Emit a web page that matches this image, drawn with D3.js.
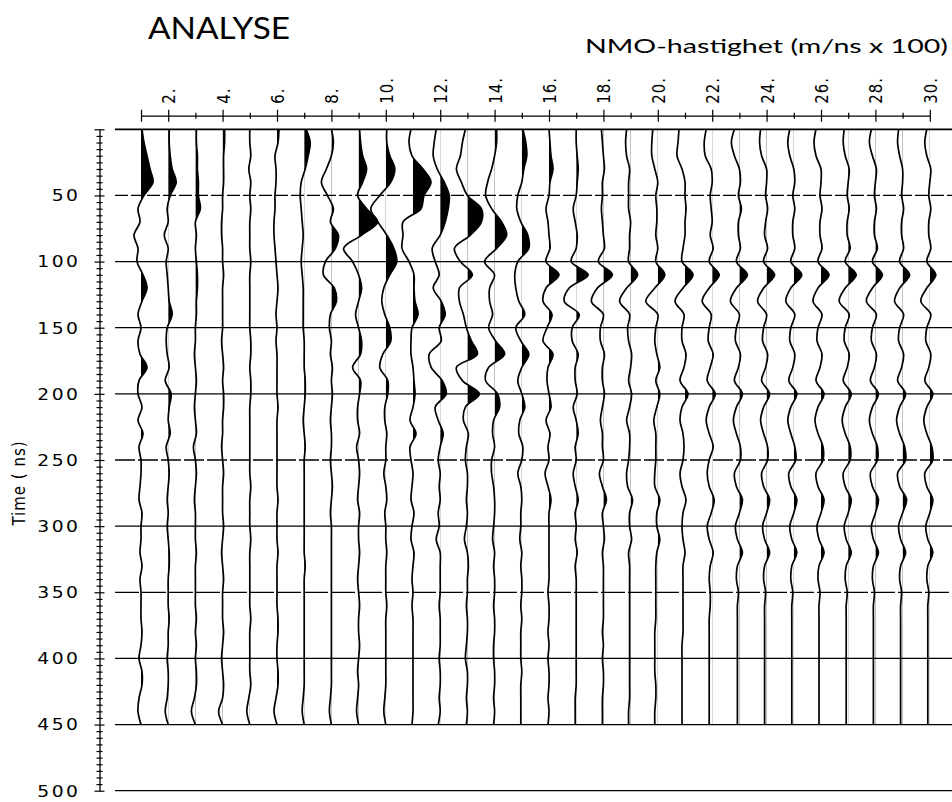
<!DOCTYPE html>
<meta charset="utf-8">
<script src="https://d3js.org/d3.v7.min.js"></script>
<style>
  body { margin: 0; background: #fff; }
</style>
<div id="my_dataviz"></div>
<script>

// ---- data ----
// NMO velocity of each trace (m/ns x 100)
var velocities = [1,2,3,4,5,6,7,8,9,10,11,12,13,14,15,16,17,18,19,20,21,22,23,24,25,26,27,28,29,30];
// labelled velocities on the top axis
var velLabels = [2,4,6,8,10,12,14,16,18,20,22,24,26,28,30];
// sample times (ns) of every trace
var times = [0,10,20,30,40,50,60,70,80,90,100,110,120,130,140,150,160,170,180,190,
             200,210,220,230,240,250,260,270,280,290,300,310,320,330,340,350,360,370,380,390,
             400,410,420,430,440,450];
// horizontal time lines and labelled time ticks
var gridTimes = [0,50,100,150,200,250,300,350,400,450,500];
var timeLabels = [50,100,150,200,250,300,350,400,450,500];

// trace amplitudes (deflection, + = right / filled), one value per sample time
var tr01 = [1,3,6,9,12,3,-3,-1,-7,-3,-4,2,6,1,-3,0,-3,-1,6,-2,-3,1,-3,2,-2,0,0,-1,-2,1,0,0,-1,1,-1,0,0,0,1,0,-2,1,1,-2,-3,0];
var tr02 = [1,1,2,4,8,2,-1,0,-4,0,-2,-1,0,1,4,-1,-2,-1,1,-3,3,1,0,2,-2,0,1,0,-1,0,-1,0,1,1,0,0,0,1,0,0,-1,0,0,-1,-3,0];
var tr03 = [1,1,2,2,3,3,5,0,1,0,1,2,2,1,1,0,0,-1,0,1,0,-1,0,1,-2,0,1,0,-1,0,0,0,1,0,0,0,0,1,0,1,0,1,1,-1,-4,0];
var tr04 = [2,2,1,1,1,0,0,-1,-1,0,0,1,0,0,0,0,-1,0,1,0,1,1,0,0,-1,0,1,0,0,0,1,0,-1,0,1,0,0,0,1,0,-1,0,1,0,-4,0];
var tr05 = [0,0,1,-1,1,0,1,0,0,0,1,0,0,0,0,0,1,1,0,1,1,0,0,0,0,0,0,1,0,0,0,1,0,0,0,0,0,1,0,0,0,0,1,-1,-3,0];
var tr06 = [2,1,-2,-1,-1,-2,-2,-3,-3,-2,-1,0,1,0,-1,0,-1,0,0,0,0,1,0,0,0,0,0,0,1,0,0,0,1,0,0,0,0,1,1,0,0,1,1,-1,-3,0];
var tr07 = [2,6,4,1,-3,-4,-3,-2,-1,-2,-3,-2,-1,-1,-1,-1,0,0,0,1,1,0,-1,0,1,0,0,0,0,0,0,0,0,1,0,0,0,0,0,0,0,0,0,-1,-2,0];
var tr08 = [0,2,0,-5,-10,-4,2,-1,7,4,-6,-8,3,5,-1,-2,0,-1,1,0,1,0,-1,0,0,-1,0,1,0,-1,0,0,0,0,0,0,0,0,0,0,0,0,0,-1,-2,0];
var tr09 = [1,2,4,8,4,-1,8,19,3,-15,-6,0,3,0,-3,0,3,2,-6,2,1,-1,-1,1,-2,0,1,0,-1,1,0,0,1,0,-1,0,1,0,0,1,0,-1,0,-1,-2,0];
var tr10 = [1,1,4,9,5,-6,-15,-8,1,8,11,4,-2,-4,-1,4,5,-3,-6,2,2,-1,-1,1,0,0,-2,0,1,-1,0,0,1,0,0,0,1,0,0,0,0,0,0,-1,-2,0];
var tr11 = [-2,-4,-1,10,18,11,8,-10,-10,-11,-4,1,1,2,5,-1,-2,-2,0,1,2,0,-3,3,-3,-2,0,-1,-2,1,-1,-2,1,0,-1,0,-1,0,0,0,0,0,0,0,0,-1];
var tr12 = [-4,-6,-7,-3,4,9,8,5,0,-8,-5,-1,-7,1,5,-1,1,-11,-9,2,6,-5,-2,3,0,-2,0,-1,0,-2,-1,-4,0,0,0,0,-1,0,0,0,-1,0,0,-1,0,-2];
var tr13 = [-2,-5,-7,-11,-6,0,14,14,3,-13,-7,5,-8,-8,-4,-1,4,10,-11,-5,12,-2,-4,1,-1,-2,0,0,-1,0,-1,-3,0,1,0,0,-1,0,0,-1,-2,0,0,-1,0,-1];
var tr14 = [2,2,0,-3,-7,-9,-3,7,12,2,-10,0,-5,-5,-2,-6,1,10,-6,-9,3,5,-1,-2,0,-3,-3,-1,0,0,-1,-2,0,-1,0,0,-1,0,0,-1,-1,0,0,-1,0,-1];
var tr15 = [1,4,5,2,0,-4,-5,-1,6,7,-4,-7,-6,-3,3,-6,-1,7,0,-4,0,3,-2,-3,1,0,-4,-1,0,-1,-1,-2,0,-1,0,0,-1,0,-1,-1,-1,0,-1,-1,-1,-1];
var tr16 = [0,1,2,4,1,0,-3,-1,0,1,-3,10,-3,-6,3,-2,-6,4,-1,-2,0,2,-3,1,-1,0,-4,-1,2,0,0,0,0,0,0,-1,0,0,-1,0,-1,0,0,-1,0,-1];
var tr17 = [0,0,1,2,1,0,-3,-1,1,0,-5,12,-7,-12,3,-4,-4,2,-1,-1,1,-3,0,2,-1,0,-3,-1,2,-1,0,-1,1,-1,0,0,0,0,0,0,0,0,0,-1,-1,-1];
var tr18 = [-2,-1,0,1,-1,-1,-2,-1,0,1,-5,9,-6,-12,0,-3,-3,1,-1,-1,1,-1,-3,-1,-1,0,-4,-1,3,-1,0,1,-1,0,0,0,0,0,-1,0,-1,0,0,-1,-1,-1];
var tr19 = [-4,-5,-4,-1,-2,-2,-2,0,-1,-1,-2,7,-4,-11,-1,-3,-2,1,0,-2,1,-1,-4,-1,-1,-2,-4,-3,2,-1,-1,1,-2,-1,-1,-1,-1,-1,-1,-1,-1,-1,-1,-1,-2,-2];
var tr20 = [-5,-6,-6,-3,0,-2,-1,-1,-2,0,-2,7,-3,-12,0,-2,-3,-1,2,-2,2,-1,-4,-2,-2,-2,-3,-3,2,-1,-1,2,-1,-2,-2,-2,-2,-2,-3,-3,-3,-3,-2,-2,-3,-3];
var tr21 = [-6,-7,-8,-3,0,0,1,0,0,-2,-3,8,-2,-10,-1,-3,-3,1,-1,-5,3,-3,-5,-2,-1,-2,-5,-3,1,-2,-3,-2,0,-2,-2,-2,-2,-2,-2,-3,-3,-3,-3,-3,-3,-3];
var tr22 = [-6,-8,-7,-1,0,-2,-1,0,-2,1,-3,7,-3,-10,-1,-3,-4,1,-2,-5,3,-3,-6,-3,1,-3,-5,-3,2,-1,-5,-3,1,-2,-3,-2,-2,-3,-3,-3,-3,-3,-3,-3,-3,-3];
var tr23 = [-5,-8,-5,0,1,-1,2,-1,-1,1,-3,8,-3,-9,0,-3,-4,1,-1,-5,3,-3,-6,-3,1,1,-5,-3,3,0,-4,-2,3,-2,-3,-1,-2,-2,-2,-2,-2,-2,-2,-2,-2,-2];
var tr24 = [-6,-7,-5,0,0,-1,1,-1,-2,1,-3,8,-3,-9,0,-3,-4,1,-1,-5,3,-3,-6,-3,1,1,-5,-3,3,0,-4,-2,3,-2,-3,-1,-2,-2,-2,-2,-2,-2,-2,-2,-2,-2];
var tr25 = [-4,-6,-4,0,1,-1,1,-1,-1,1,-3,8,-3,-8,1,-3,-4,1,-1,-5,3,-3,-6,-3,1,2,-5,-3,3,0,-4,-2,3,-2,-3,-1,-2,-2,-2,-2,-2,-2,-2,-2,-2,-2];
var tr26 = [-5,-7,-5,0,0,-1,1,-1,-1,1,-3,8,-3,-8,1,-3,-4,1,-1,-5,3,-3,-6,-3,2,2,-5,-3,3,0,-4,-2,3,-2,-3,-1,-2,-2,-2,-2,-2,-2,-2,-2,-2,-2];
var tr27 = [-4,-5,-3,1,0,-1,1,-1,-1,2,-3,8,-3,-9,1,-3,-4,1,-1,-5,3,-3,-6,-3,2,2,-5,-3,3,0,-4,-2,3,-2,-3,-1,-2,-2,-2,-2,-2,-2,-2,-2,-2,-2];
var tr28 = [-4,-6,-3,1,0,-1,1,-1,-1,2,-3,7,-3,-9,1,-3,-4,1,-1,-5,3,-3,-6,-3,2,2,-5,-3,3,0,-4,-2,3,-2,-3,-1,-2,-2,-2,-2,-2,-2,-2,-2,-2,-2];
var tr29 = [-4,-5,-3,0,0,-1,1,-1,-1,1,-3,7,-3,-8,1,-3,-4,1,-1,-5,3,-3,-6,-3,2,3,-5,-3,4,0,-4,-2,3,-2,-3,-1,-2,-2,-2,-2,-2,-2,-2,-2,-2,-2];
var tr30 = [-3,-5,-3,1,0,-1,1,-1,-1,1,-3,6,-3,-9,1,-3,-4,1,-1,-5,3,-3,-6,-3,2,3,-5,-3,3,0,-4,-2,3,-2,-3,-1,-2,-2,-2,-2,-2,-2,-2,-2,-2,-2];

var traces = [tr01,tr02,tr03,tr04,tr05,tr06,tr07,tr08,tr09,tr10,tr11,tr12,tr13,tr14,tr15,
              tr16,tr17,tr18,tr19,tr20,tr21,tr22,tr23,tr24,tr25,tr26,tr27,tr28,tr29,tr30];

// ---- layout ----
var width = 952, height = 802;
var plotFont = "'DejaVu Sans', sans-serif";

var svg = d3.select("#my_dataviz")
  .append("svg")
    .attr("width", width)
    .attr("height", height);

// scales
var x = d3.scaleLinear().domain([1, 30]).range([141, 929.8]);
var y = d3.scaleLinear().domain([0, 500]).range([129.3, 790.7]);
var amp = d3.scaleLinear().domain([-10, 10]).range([-10, 10]);

// horizontal time lines
var dashes = {50: "13,3", 250: "20,3", 350: "24,3"};
svg.append("g")
  .selectAll("line")
  .data(gridTimes)
  .enter()
  .append("line")
    .attr("x1", 115)
    .attr("x2", width)
    .attr("y1", function(d) { return y(d); })
    .attr("y2", function(d) { return y(d); })
    .attr("stroke", "#000")
    .attr("stroke-width", function(d) { return d == 0 ? 1.8 : 1.3; })
    .attr("stroke-dasharray", function(d) { return dashes[d] || null; });

// left time axis, small tick every 5 ns
var yAxis = svg.append("g")
  .attr("transform", "translate(99.5,0)")
  .call(d3.axisLeft(y)
    .tickValues(d3.range(0, 501, 5))
    .tickSizeOuter(0)
    .tickSize(0)
    .tickFormat(function(d) { return timeLabels.indexOf(d) >= 0 ? d : ""; }));
yAxis.select(".domain").attr("stroke", "#000").attr("stroke-width", 1.3);
yAxis.selectAll(".tick line")
  .attr("x1", function(d) { return d % 50 == 0 ? -5 : -3; })
  .attr("x2", function(d) { return d % 50 == 0 ? 5 : 3; })
  .attr("stroke", "#000")
  .attr("stroke-width", 1.2);
yAxis.selectAll(".tick text")
  .attr("x", 0)
  .attr("dy", "0.36em")
  .attr("transform", "translate(-19,0) scale(1.25,1)")
  .style("font-family", plotFont)
  .style("font-size", "15px")
  .style("letter-spacing", "2px")
  .attr("fill", "#000");

// top velocity axis
var xAxis = svg.append("g")
  .attr("transform", "translate(0,115.7)")
  .call(d3.axisTop(x)
    .tickValues(velocities)
    .tickSizeOuter(0)
    .tickSize(0)
    .tickFormat(function(d) { return velLabels.indexOf(d) >= 0 ? d + "." : ""; }));
xAxis.select(".domain").attr("stroke", "#000").attr("stroke-width", 1.3);
xAxis.selectAll(".tick line")
  .attr("y1", function(d) { return (d % 2 == 0 || d == 1) ? -6 : -3; })
  .attr("y2", function(d) { return (d % 2 == 0 || d == 1) ? 6 : 3; })
  .attr("stroke", "#000")
  .attr("stroke-width", 1.2);
xAxis.selectAll(".tick text")
  .attr("transform", "rotate(-90) scale(1,1.2)")
  .attr("text-anchor", "start")
  .attr("x", 12)
  .attr("y", 0)
  .attr("dy", "0.36em")
  .style("font-family", plotFont)
  .style("font-size", "15px")
  .style("letter-spacing", "1px")
  .attr("fill", "#000");

// wiggle traces with filled positive lobes
var defs = svg.append("defs");
var line = d3.line()
  .x(function(d) { return d[0]; })
  .y(function(d) { return d[1]; })
  .curve(d3.curveCatmullRom.alpha(0.5));

var traceG = svg.append("g");
traces.forEach(function(vals, i) {
  var bx = x(velocities[i]);
  var pts = times.map(function(t, j) { return [bx + amp(vals[j]), y(t)]; });

  defs.append("clipPath")
      .attr("id", "pos" + i)
    .append("rect")
      .attr("x", bx)
      .attr("y", 0)
      .attr("width", 80)
      .attr("height", height);

  var area = d3.area()
    .x0(bx)
    .x1(function(d) { return d[0]; })
    .y(function(d) { return d[1]; })
    .curve(d3.curveCatmullRom.alpha(0.5));

  traceG.append("path")
    .datum(pts)
    .attr("d", area)
    .attr("fill", "#000")
    .attr("clip-path", "url(#pos" + i + ")");

  traceG.append("path")
    .datum(pts)
    .attr("d", line)
    .attr("fill", "none")
    .attr("stroke", "#000")
    .attr("stroke-width", 1.7);
});

// titles
svg.append("text")
  .attr("x", 148)
  .attr("y", 39)
  .attr("textLength", 142)
  .attr("lengthAdjust", "spacingAndGlyphs")
  .style("font-family", "Lato, 'Noto Sans', sans-serif")
  .style("font-size", "30px")
  .text("ANALYSE");

svg.append("text")
  .attr("x", 585)
  .attr("y", 53)
  .attr("textLength", 363)
  .attr("lengthAdjust", "spacingAndGlyphs")
  .style("font-family", "Lato, 'Noto Sans', sans-serif")
  .style("font-size", "19px")
  .text("NMO-hastighet (m/ns x 100)");

// y axis title
svg.append("text")
  .attr("transform", "translate(25,483) rotate(-90) scale(1,1.15)")
  .attr("text-anchor", "middle")
  .style("font-family", plotFont)
  .style("font-size", "15px")
  .style("letter-spacing", "1px")
  .text("Time ( ns)");

</script>
